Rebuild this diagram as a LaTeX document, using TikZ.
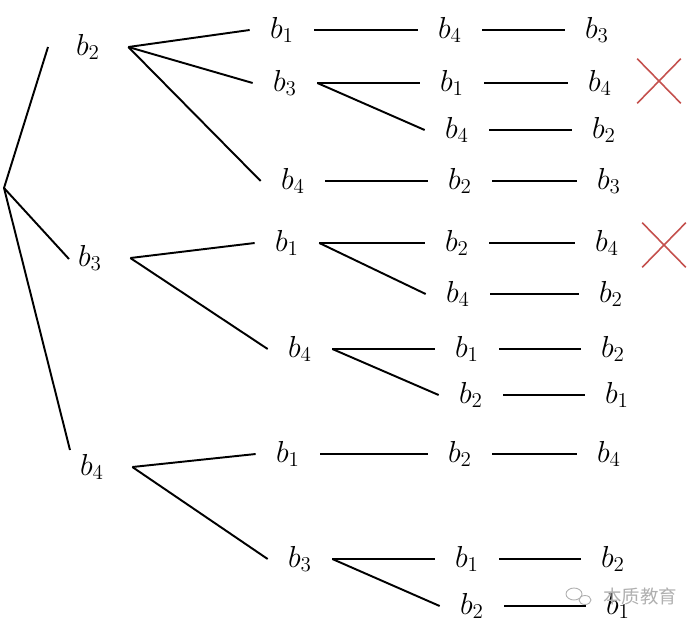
\documentclass[tikz,border=0pt]{standalone}
\usepackage{fontspec}
\usepackage{xcolor}
\usepackage{tikz}
\usetikzlibrary{shapes.misc}
\newfontfamily\cjkfont{Noto Sans CJK SC}
\definecolor{xred}{RGB}{196,80,77}
\definecolor{wmgray}{RGB}{175,175,175}

\begin{document}
\begin{tikzpicture}[x=0.02cm, y=-0.02cm,
  lbl/.style={inner sep=0pt, minimum width=1.28cm, minimum height=0.5cm, font=\fontsize{17}{20}\selectfont},
  top/.style={lbl, minimum width=1.6cm},
  ln/.style={line width=1.1pt},
  no/.style={cross out, draw=xred, line width=0.9pt, inner sep=0pt, minimum width=0.84cm, minimum height=0.86cm}]
\useasboundingbox (0,0) rectangle (689,626);
% first choice
\coordinate (root) at (4,188);
\node[top] (u2) at (88,47) {$b_2$};
\node[top] (u3) at (90,258) {$b_3$};
\node[top] (u4) at (92,467) {$b_4$};
\coordinate (r2) at (48,47);
\coordinate (r3) at (69,259);
\coordinate (r4) at (70,450);
% b2 branch
\node[lbl] (u21) at (282,30) {$b_1$};
\node[lbl] (u23) at (285,83) {$b_3$};
\node[lbl] (u24) at (293,181) {$b_4$};
\node[lbl] (u214) at (450,30) {$b_4$};
\node[lbl] (u231) at (452,83) {$b_1$};
\node[lbl] (u234) at (457,130) {$b_4$};
\node[lbl] (u242) at (460,181) {$b_2$};
\node[lbl] (u2143) at (597,30) {$b_3$};
\node[lbl] (u2314) at (600,83) {$b_4$};
\node[lbl] (u2342) at (604,130) {$b_2$};
\node[lbl] (u2423) at (609,181) {$b_3$};
% b3 branch
\node[lbl] (u31) at (287,243) {$b_1$};
\node[lbl] (u34) at (300,349) {$b_4$};
\node[lbl] (u312) at (457,243) {$b_2$};
\node[lbl] (u314) at (458,294) {$b_4$};
\node[lbl] (u341) at (467,349) {$b_1$};
\node[lbl] (u342) at (471,395) {$b_2$};
\node[lbl] (u3124) at (607,243) {$b_4$};
\node[lbl] (u3142) at (611,294) {$b_2$};
\node[lbl] (u3412) at (613,349) {$b_2$};
\node[lbl] (u3421) at (617,395) {$b_1$};
% b4 branch
\node[lbl] (u41) at (288,454) {$b_1$};
\node[lbl] (u43) at (300,559) {$b_3$};
\node[lbl] (u412) at (460,454) {$b_2$};
\node[lbl] (u431) at (467,559) {$b_1$};
\node[lbl] (u432) at (472,606) {$b_2$};
\node[lbl] (u4124) at (609,454) {$b_4$};
\node[lbl] (u4312) at (613,559) {$b_2$};
\node[lbl] (u4321) at (618,606) {$b_1$};
% crosses
\node[no] (no1) at (659,81) {};
\node[no] (no2) at (664,245) {};
% watermark
\node[inner sep=0pt, text=wmgray, font=\cjkfont\fontsize{10.5}{12}\selectfont] (wm) at (640,596) {本质教育};
\draw[wmgray, line width=0.5pt] (574,594) ellipse (8 and 6);
\draw[wmgray, line width=0.5pt] (585,600) ellipse (6 and 4.5);
\draw[ln] (root) -- (r2);
\draw[ln] (root) -- (r3);
\draw[ln] (root) -- (r4);
\draw[ln] (u2.east) -- (u21.west);
\draw[ln] (u2.east) -- (u23.west);
\draw[ln] (u2.east) -- (u24.west);
\draw[ln] (u21) -- (u214);
\draw[ln] (u214) -- (u2143);
\draw[ln] (u23.east) -- (u231.west);
\draw[ln] (u23.east) -- (u234.west);
\draw[ln] (u231) -- (u2314);
\draw[ln] (u234) -- (u2342);
\draw[ln] (u24) -- (u242);
\draw[ln] (u242) -- (u2423);
\draw[ln] (u3.east) -- (u31.west);
\draw[ln] (u3.east) -- (u34.west);
\draw[ln] (u31.east) -- (u312.west);
\draw[ln] (u31.east) -- (u314.west);
\draw[ln] (u312) -- (u3124);
\draw[ln] (u314) -- (u3142);
\draw[ln] (u34.east) -- (u341.west);
\draw[ln] (u34.east) -- (u342.west);
\draw[ln] (u341) -- (u3412);
\draw[ln] (u342) -- (u3421);
\draw[ln] (u4.east) -- (u41.west);
\draw[ln] (u4.east) -- (u43.west);
\draw[ln] (u41) -- (u412);
\draw[ln] (u412) -- (u4124);
\draw[ln] (u43.east) -- (u431.west);
\draw[ln] (u43.east) -- (u432.west);
\draw[ln] (u431) -- (u4312);
\draw[ln] (u432) -- (u4321);
\end{tikzpicture}
\end{document}
